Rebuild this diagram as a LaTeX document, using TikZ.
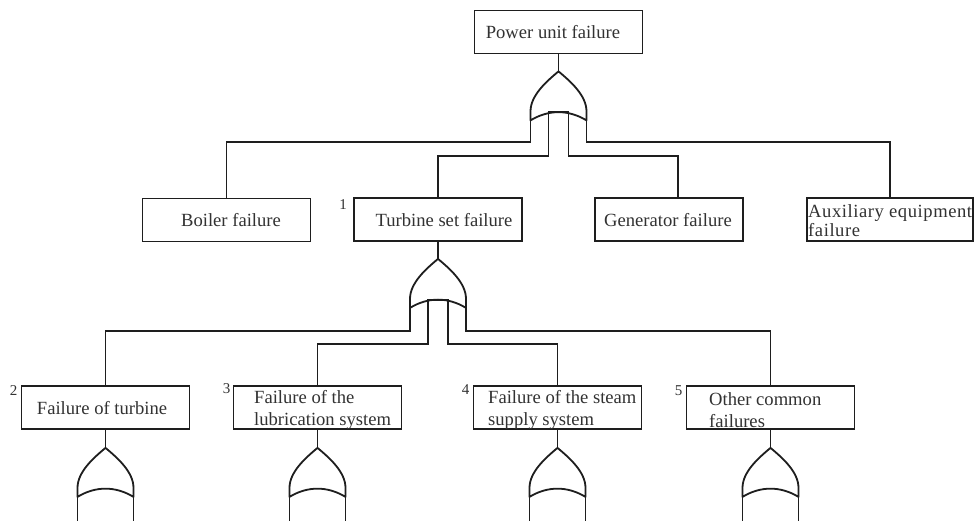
\documentclass[tikz,border=0pt]{standalone}
\usepackage{fontspec}
\setmainfont{Liberation Serif}
\usetikzlibrary{calc}
\definecolor{ink}{RGB}{30,30,30}
\definecolor{txtc}{RGB}{50,50,50}
\tikzset{
  conn/.style={draw=ink, line width=1.8pt},
  box/.style={draw=ink, line width=1.8pt, rectangle, inner sep=0pt, minimum width=168pt, minimum height=43pt},
  txt/.style={text=txtc, inner sep=0pt, font=\fontsize{18.6}{22}\selectfont},
  txttwo/.style={txt, anchor=west, align=left},
  num/.style={text=txtc, inner sep=0pt, anchor=north east, font=\fontsize{15}{17}\selectfont},
  orgate/.pic={\draw[draw=ink, line width=1.8pt, line join=round]
     (0,0) .. controls (-12,10) and (-28,24) .. (-28,40) -- (-28,49)
     .. controls (-10,38) and (10,38) .. (28,49) -- (28,40)
     .. controls (28,24) and (12,10) .. (0,0);}
}
\begin{document}
\begin{tikzpicture}[x=1pt,y=-1pt]
\useasboundingbox (0,0) rectangle (975,521);
\fill[white] (0,0) rectangle (975,521);

% boxes
\node[box] (A) at (558.5,32) {};
\node[box] (Boil) at (226.5,220) {};
\node[box] (Turb) at (438,219.5) {};
\node[box, minimum width=148pt] (Gen) at (669,219.5) {};
\node[box, minimum width=166pt] (Aux) at (890,219.5) {};
\node[box] (F2) at (105.5,407.5) {};
\node[box] (F3) at (317.5,407.5) {};
\node[box] (F4) at (557.5,407.5) {};
\node[box] (F5) at (770.5,407.5) {};

% texts
\node[txt] (tA) at (553,32) {Power unit failure};
\node[txt] (tBoil) at (231,220) {Boiler failure};
\node[txt] (tTurb) at (444,220) {Turbine set failure};
\node[txt] (tGen) at (668,220) {Generator failure};
\node[txttwo, font=\fontsize{18.6}{19}\selectfont\addfontfeatures{LetterSpace=3}] (tAux) at (808,221) {Auxiliary equipment\\failure};
\node[txt] (tF2) at (102,408) {Failure of turbine};
\node[txttwo] (tF3) at (254,410) {Failure of the\\lubrication system};
\node[txttwo] (tF4) at (488,410) {Failure of the steam\\supply system};
\node[txttwo] (tF5) at (709,410) {Other common\\failures};

% numbers
\node[num] (n1) at ($(Turb.north west)+(-6,2)$) {1};
\node[num] (n2) at ($(F2.north west)+(-3,0)$) {2};
\node[num] (n3) at ($(F3.north west)+(-2,-2)$) {3};
\node[num] (n4) at ($(F4.north west)+(-3,-1)$) {4};
\node[num] (n5) at ($(F5.north west)+(-3,0)$) {5};

% top gate
\coordinate (G0) at ($(A.south)+(0,17)$);
\draw[conn] (A.south) -- (G0);
\pic at (G0) {orgate};
\draw[conn] ($(G0)+(-28,49)$) -- ++(0,22) -| (Boil.north);
\draw[conn] ($(G0)+(28,49)$) -- ++(0,22) -| (Aux.north);
\draw[conn] (Turb.north) |- ($(G0)+(-10,85)$) -- ($(G0)+(-10,41)$) -- ($(G0)+(10,41)$) -- ($(G0)+(10,85)$) -| ([xshift=9pt]Gen.north);

% middle gate
\coordinate (G1) at ($(Turb.south)+(0,17)$);
\draw[conn] (Turb.south) -- (G1);
\pic at (G1) {orgate};
\draw[conn] ($(G1)+(-28,49)$) -- ++(0,23) -| (F2.north);
\draw[conn] ($(G1)+(28,49)$) -- ++(0,23) -| (F5.north);
\draw[conn] (F3.north) |- ($(G1)+(-10,85)$) -- ($(G1)+(-10,41)$) -- ($(G1)+(10,41)$) -- ($(G1)+(10,85)$) -| (F4.north);

% bottom gates
\foreach \b/\g in {F2/G2, F3/G3, F4/G4, F5/G5}{
  \coordinate (\g) at ($(\b.south)+(0,18)$);
  \draw[conn] (\b.south) -- (\g);
  \pic at (\g) {orgate};
  \draw[conn] ($(\g)+(-28,49)$) -- ++(0,24);
  \draw[conn] ($(\g)+(28,49)$) -- ++(0,24);
}
\end{tikzpicture}
\end{document}
